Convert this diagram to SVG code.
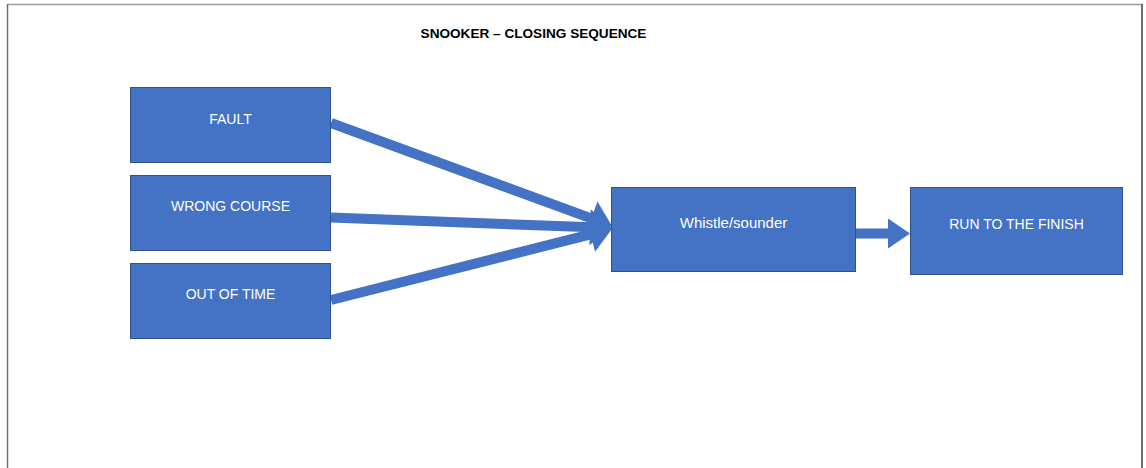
<svg xmlns="http://www.w3.org/2000/svg" width="1146" height="468" viewBox="0 0 1146 468">
<style>
.node rect{fill:#4472C4;stroke:#2F528F;stroke-width:1}
.node text{fill:#ffffff;font-family:"Liberation Sans",Arial,sans-serif;font-size:14px;text-anchor:middle}
.conn{stroke:#4472C4;stroke-width:10;fill:none}
.title{font-family:"Liberation Sans",Arial,sans-serif;font-weight:bold;font-size:13.6px;fill:#000;text-anchor:middle}
</style>
<defs>
<marker id="ah" markerUnits="userSpaceOnUse" markerWidth="24" markerHeight="30" viewBox="0 0 22 30" refX="2" refY="15" orient="auto">
<path d="M0,0 L22,15 L0,30 z" fill="#4472C4"/>
</marker>
<marker id="ahw" markerUnits="userSpaceOnUse" markerWidth="24" markerHeight="36" viewBox="0 0 22 36" refX="2" refY="18" orient="auto">
<path d="M0,0 L22,18 L0,36 z" fill="#4472C4"/>
</marker>
</defs>
<rect x="0" y="0" width="1146" height="468" fill="#ffffff"/>
<g id="frame" fill="none">
<line x1="7" y1="4.5" x2="1143" y2="4.5" stroke="#9a9a9a" stroke-width="1.5"/>
<line x1="7.5" y1="4" x2="7.5" y2="468" stroke="#6e6e6e" stroke-width="1.5"/>
<line x1="1142" y1="4" x2="1142" y2="468" stroke="#6e6e6e" stroke-width="2"/>
</g>
<text class="title" x="533.5" y="37.5">SNOOKER – CLOSING SEQUENCE</text>
<g id="connectors">
<line class="conn" x1="331" y1="123" x2="593.2" y2="219.1" marker-end="url(#ahw)"/>
<line class="conn" x1="331" y1="217.5" x2="592" y2="227.3" marker-end="url(#ahw)"/>
<line class="conn" x1="331" y1="300" x2="592.6" y2="233.9" marker-end="url(#ahw)"/>
<line class="conn" x1="856" y1="233.5" x2="890" y2="233.5" marker-end="url(#ah)"/>
</g>
<g id="fault" class="node">
<rect x="130.5" y="87.5" width="200" height="75"/>
<text x="230.5" y="124">FAULT</text>
</g>
<g id="wrong-course" class="node">
<rect x="130.5" y="175.5" width="200" height="75"/>
<text x="230.5" y="211">WRONG COURSE</text>
</g>
<g id="out-of-time" class="node">
<rect x="130.5" y="263.5" width="200" height="75"/>
<text x="230.5" y="299">OUT OF TIME</text>
</g>
<g id="whistle" class="node">
<rect x="611.5" y="187.5" width="244" height="84"/>
<text x="733.5" y="228" style="font-size:15px">Whistle/sounder</text>
</g>
<g id="run-to-finish" class="node">
<rect x="910.5" y="187.5" width="212" height="87"/>
<text x="1016.5" y="229">RUN TO THE FINISH</text>
</g>
</svg>
